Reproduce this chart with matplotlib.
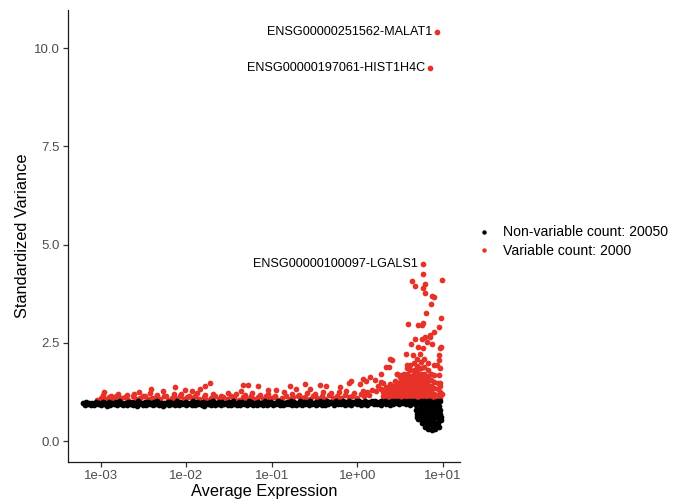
import numpy as np
import matplotlib
matplotlib.use("Agg")
import matplotlib.pyplot as plt
from matplotlib.lines import Line2D

plt.rcParams['font.family'] = ['Liberation Sans', 'DejaVu Sans']

# average expression is kept as log10 values, standardized variance as is
# non-variable genes: main band (upper and lower rows) and the dip at high expression
band_a_logmean = [-3.21, -3.17, -3.14, -3.10, -3.06, -3.02, -2.98, -2.95, -2.91, -2.87,
                  -2.83, -2.79, -2.76, -2.72, -2.68, -2.64, -2.60, -2.57, -2.53, -2.49,
                  -2.45, -2.41, -2.38, -2.34, -2.30, -2.26, -2.22, -2.19, -2.15, -2.11,
                  -2.07, -2.03, -2.00, -1.96, -1.92, -1.88, -1.84, -1.81, -1.77, -1.73,
                  -1.69, -1.65, -1.62, -1.58, -1.54, -1.50, -1.46, -1.43, -1.39, -1.35,
                  -1.31, -1.27, -1.24, -1.20, -1.16, -1.12, -1.08, -1.05, -1.01, -0.97,
                  -0.93, -0.89, -0.86, -0.82, -0.78, -0.74, -0.70, -0.67, -0.63, -0.59,
                  -0.55, -0.51, -0.48, -0.44, -0.40, -0.36, -0.32, -0.29, -0.25, -0.21,
                  -0.17, -0.13, -0.10, -0.06, -0.02, 0.02, 0.06, 0.09, 0.13, 0.17,
                  0.21, 0.25, 0.28, 0.32, 0.36, 0.40, 0.44, 0.47, 0.51, 0.55,
                  0.59, 0.63, 0.66, 0.70, 0.74, 0.78, 0.82, 0.85, 0.89, 0.93, 0.97]
band_a_var = [0.97, 0.99, 0.96, 0.98, 1.00, 0.97, 0.99, 0.98, 1.00, 0.97,
              0.99, 1.01, 0.98, 0.97, 1.00, 0.99, 0.98, 1.01, 0.97, 0.99,
              1.00, 0.98, 0.99, 1.01, 0.98, 0.97, 1.00, 0.99, 0.98, 1.01,
              0.99, 0.97, 1.00, 0.98, 1.01, 0.99, 0.98, 1.00, 0.97, 0.99,
              1.01, 0.98, 1.00, 0.99, 0.97, 1.00, 1.01, 0.98, 0.99, 1.00,
              0.98, 1.01, 0.99, 0.97, 1.00, 0.98, 1.01, 0.99, 1.00, 0.98,
              1.01, 0.99, 0.98, 1.00, 1.02, 0.99, 0.98, 1.01, 1.00, 0.99,
              1.02, 0.98, 1.00, 1.01, 0.99, 1.02, 1.00, 0.98, 1.01, 1.00,
              1.02, 0.99, 1.01, 1.00, 1.03, 1.01, 0.99, 1.02, 1.00, 1.01,
              1.03, 1.00, 1.02, 1.01, 0.99, 1.02, 1.01, 1.03, 1.00, 1.02,
              1.01, 1.03, 1.02, 1.00, 1.02, 1.03, 1.01, 1.02, 1.00, 1.03, 1.02]

band_b_logmean = [-3.19, -3.15, -3.12, -3.08, -3.04, -3.00, -2.96, -2.93, -2.89, -2.85,
                  -2.81, -2.77, -2.74, -2.70, -2.66, -2.62, -2.58, -2.55, -2.51, -2.47,
                  -2.43, -2.39, -2.36, -2.32, -2.28, -2.24, -2.20, -2.17, -2.13, -2.09,
                  -2.05, -2.01, -1.98, -1.94, -1.90, -1.86, -1.82, -1.79, -1.75, -1.71,
                  -1.67, -1.63, -1.60, -1.56, -1.52, -1.48, -1.44, -1.41, -1.37, -1.33,
                  -1.29, -1.25, -1.22, -1.18, -1.14, -1.10, -1.06, -1.03, -0.99, -0.95,
                  -0.91, -0.87, -0.84, -0.80, -0.76, -0.72, -0.68, -0.65, -0.61, -0.57,
                  -0.53, -0.49, -0.46, -0.42, -0.38, -0.34, -0.30, -0.27, -0.23, -0.19,
                  -0.15, -0.11, -0.08, -0.04, 0.00, 0.04, 0.08, 0.11, 0.15, 0.19,
                  0.23, 0.27, 0.30, 0.34, 0.38, 0.42, 0.46, 0.49, 0.53, 0.57,
                  0.61, 0.65]
band_b_var = [0.92, 0.94, 0.91, 0.93, 0.95, 0.92, 0.94, 0.90, 0.93, 0.95,
              0.92, 0.94, 0.91, 0.93, 0.95, 0.92, 0.90, 0.94, 0.93, 0.91,
              0.95, 0.92, 0.94, 0.93, 0.90, 0.94, 0.92, 0.95, 0.91, 0.93,
              0.94, 0.92, 0.95, 0.91, 0.93, 0.94, 0.92, 0.90, 0.95, 0.93,
              0.92, 0.94, 0.91, 0.95, 0.93, 0.92, 0.94, 0.91, 0.93, 0.95,
              0.92, 0.94, 0.93, 0.91, 0.95, 0.93, 0.92, 0.94, 0.91, 0.95,
              0.93, 0.92, 0.94, 0.95, 0.91, 0.93, 0.94, 0.92, 0.95, 0.93,
              0.94, 0.92, 0.95, 0.93, 0.91, 0.94, 0.96, 0.93, 0.95, 0.94,
              0.92, 0.95, 0.93, 0.96, 0.94, 0.92, 0.95, 0.93, 0.96, 0.94,
              0.95, 0.93, 0.96, 0.94, 0.92, 0.95, 0.97, 0.94, 0.96, 0.95,
              0.93, 0.96]

dip_logmean = [0.69, 0.69, 0.70, 0.70, 0.71,
               0.73, 0.73, 0.74, 0.74, 0.75, 0.75,
               0.77, 0.77, 0.78, 0.78, 0.78, 0.79, 0.79,
               0.81, 0.81, 0.82, 0.82, 0.82, 0.83, 0.83,
               0.85, 0.85, 0.86, 0.86, 0.86, 0.87, 0.87,
               0.89, 0.89, 0.90, 0.90, 0.90, 0.91, 0.91,
               0.93, 0.93, 0.94, 0.94, 0.94, 0.95,
               0.96, 0.97, 0.97, 0.98, 0.98]
dip_var = [0.92, 0.80, 0.70, 0.62, 0.56,
           0.93, 0.82, 0.72, 0.62, 0.52, 0.45,
           0.94, 0.84, 0.74, 0.64, 0.54, 0.44, 0.36,
           0.93, 0.83, 0.73, 0.63, 0.53, 0.42, 0.32,
           0.94, 0.84, 0.74, 0.64, 0.52, 0.40, 0.29,
           0.93, 0.83, 0.72, 0.61, 0.50, 0.39, 0.30,
           0.92, 0.81, 0.70, 0.58, 0.46, 0.36,
           0.90, 0.80, 0.70, 0.62, 0.54]

# variable genes: thin fringe just above the band
fringe_logmean = [-3.05, -3.00, -2.95, -2.91, -2.86, -2.82, -2.77, -2.72, -2.68, -2.63,
                  -2.59, -2.54, -2.49, -2.45, -2.40, -2.36, -2.31, -2.26, -2.22, -2.17,
                  -2.13, -2.08, -2.03, -1.99, -1.94, -1.90, -1.85, -1.80, -1.76, -1.71,
                  -1.67, -1.62, -1.57, -1.53, -1.48, -1.44, -1.39, -1.34, -1.30, -1.25,
                  -1.21, -1.16, -1.11, -1.07, -1.02, -0.98, -0.93, -0.88, -0.84, -0.79,
                  -0.75, -0.70, -0.65, -0.61, -0.56, -0.52, -0.47, -0.42, -0.38, -0.33,
                  -0.29, -0.24, -0.19, -0.15, -0.10, -0.06, -0.01, 0.04, 0.08, 0.13,
                  -2.98, -2.88, -2.80, -2.70, -2.61, -2.51, -2.43, -2.34, -2.24, -2.15,
                  -2.06, -1.97, -1.88, -1.78, -1.69, -1.60, -1.51, -1.42, -1.32, -1.23,
                  -1.14, -1.05, -0.96, -0.86, -0.77, -0.68, -0.59, -0.50, -0.40, -0.31,
                  -0.22, -0.13, -0.04, 0.06, 0.11, 0.17, 0.22]
fringe_var = [1.06, 1.10, 1.08, 1.13, 1.07, 1.15, 1.09, 1.12, 1.06, 1.14,
              1.08, 1.11, 1.16, 1.07, 1.10, 1.13, 1.08, 1.15, 1.06, 1.11,
              1.09, 1.14, 1.07, 1.12, 1.10, 1.16, 1.08, 1.13, 1.06, 1.11,
              1.15, 1.08, 1.12, 1.07, 1.14, 1.10, 1.06, 1.13, 1.09, 1.16,
              1.08, 1.12, 1.07, 1.15, 1.10, 1.13, 1.06, 1.11, 1.14, 1.08,
              1.12, 1.16, 1.09, 1.13, 1.07, 1.15, 1.10, 1.14, 1.08, 1.17,
              1.11, 1.15, 1.09, 1.18, 1.12, 1.16, 1.10, 1.19, 1.14, 1.17,
              1.18, 1.14, 1.21, 1.17, 1.20, 1.16, 1.22, 1.18, 1.15, 1.21,
              1.19, 1.16, 1.23, 1.18, 1.20, 1.15, 1.22, 1.19, 1.17, 1.23,
              1.18, 1.21, 1.16, 1.24, 1.20, 1.18, 1.23, 1.21, 1.25, 1.22,
              1.24, 1.27, 1.23, 1.28, 1.25, 1.30, 1.27]

# variable genes: scattered points above the fringe
outlier_logmean = [-2.97, -2.56, -2.41, -2.27, -2.13, -2.02, -1.93, -1.84, -1.78, -1.72,
                   -1.34, -1.28, -1.16, -1.36, -1.05, -0.95, -0.79, -0.72, -0.61, -0.55,
                   -0.44, -0.37, -0.20, -0.10, -0.08, 0.03, 0.06, 0.10, 0.15, 0.20,
                   0.27, 0.30, 0.37, 0.41, 0.46, 0.58, 0.38, 0.34, 0.28, 0.24, 0.44, 0.51]
outlier_var = [1.25, 1.25, 1.34, 1.28, 1.38, 1.30, 1.27, 1.32, 1.40, 1.47,
               1.42, 1.42, 1.40, 1.28, 1.30, 1.30, 1.40, 1.34, 1.45, 1.33,
               1.42, 1.40, 1.38, 1.48, 1.53, 1.45, 1.58, 1.52, 1.64, 1.55,
               1.72, 1.47, 1.89, 2.06, 1.72, 1.93, 1.45, 1.38, 1.32, 1.40, 1.52, 1.68]

# variable genes: dense cloud at high expression, one column per log10 mean
cloud_cols = [(0.30, [1.05, 1.15, 1.25]),
              (0.34, [1.07, 1.17, 1.28]),
              (0.38, [1.05, 1.15, 1.25, 1.35]),
              (0.42, [1.08, 1.18, 1.28, 1.40]),
              (0.46, [1.05, 1.15, 1.25, 1.35, 1.47]),
              (0.50, [1.08, 1.18, 1.28, 1.38, 1.50, 1.62]),
              (0.54, [1.05, 1.15, 1.25, 1.35, 1.45, 1.57, 1.72]),
              (0.58, [1.08, 1.18, 1.28, 1.38, 1.48, 1.60, 1.72, 1.85]),
              (0.62, [1.05, 1.15, 1.25, 1.35, 1.45, 1.55, 1.67, 1.80, 1.95]),
              (0.66, [1.08, 1.18, 1.28, 1.38, 1.48, 1.58, 1.70, 1.82, 2.00]),
              (0.70, [1.05, 1.15, 1.25, 1.35, 1.45, 1.55, 1.65, 1.78, 1.92, 2.08]),
              (0.74, [1.08, 1.18, 1.28, 1.38, 1.48, 1.58, 1.70, 1.85, 2.02]),
              (0.78, [1.05, 1.15, 1.25, 1.35, 1.45, 1.57, 1.70, 1.88, 2.10]),
              (0.82, [1.08, 1.18, 1.28, 1.40, 1.52, 1.65, 1.80, 1.98]),
              (0.86, [1.05, 1.15, 1.27, 1.40, 1.55, 1.72]),
              (0.90, [1.08, 1.20, 1.35, 1.50, 1.68]),
              (0.94, [1.05, 1.18, 1.32, 1.48]),
              (0.97, [1.10, 1.25, 1.40])]

# variable genes: sparse points high above the cloud
high_logmean = [0.77, 0.64, 0.67, 0.79, 0.77, 0.99, 0.79, 0.87, 0.89, 0.86,
                0.80, 0.98, 0.59, 0.71, 0.77, 0.96, 0.89, 0.67, 0.75, 0.79,
                0.85, 0.81, 0.63, 0.71, 0.77, 0.87, 0.97, 0.38, 0.34, 0.98,
                0.57, 0.65, 0.73, 0.95, 0.89, 0.97, 0.46, 0.28, 0.95, 0.97,
                0.99, 0.75, 0.85, 0.96, 0.93]
high_var = [4.25, 4.08, 3.95, 3.99, 3.90, 4.10, 3.78, 3.70, 3.66, 3.49,
            3.27, 3.14, 2.98, 2.95, 3.01, 2.91, 2.78, 2.59, 2.61, 2.64,
            2.65, 2.53, 2.46, 2.40, 2.37, 2.48, 2.38, 2.08, 1.89, 2.40,
            2.23, 2.19, 2.23, 2.19, 1.93, 1.85, 1.72, 1.51, 1.68, 1.47,
            1.21, 2.95, 2.70, 2.06, 1.93]

# labelled top genes
top_genes = ["ENSG00000251562-MALAT1", "ENSG00000197061-HIST1H4C", "ENSG00000100097-LGALS1"]
top_logmean = [0.93, 0.85, 0.77]
top_var = [10.41, 9.49, 4.50]

legend_labels = ["Non-variable count: 20050", "Variable count: 2000"]

RED = "#e63228"
PT = 17

nonvar_x = 10 ** np.array(band_a_logmean + band_b_logmean + dip_logmean)
nonvar_y = np.array(band_a_var + band_b_var + dip_var)

cloud_x = [c[0] for c in cloud_cols for _ in c[1]]
cloud_y = [v for c in cloud_cols for v in c[1]]
var_x = 10 ** np.array(fringe_logmean + outlier_logmean + cloud_x + high_logmean + top_logmean)
var_y = np.array(fringe_var + outlier_var + cloud_y + high_var + top_var)

fig = plt.figure(figsize=(6.83, 5.03), dpi=100)
ax = fig.add_axes([68 / 683, 41 / 503, 392 / 683, 452 / 503])

ax.scatter(var_x, var_y, s=PT, c=RED, linewidths=0, zorder=2)
ax.scatter(nonvar_x, nonvar_y, s=PT, c="black", linewidths=0, zorder=3)

ax.set_xscale("log")
ax.set_xlim(10 ** -3.386, 10 ** 1.2)
ax.set_ylim(-0.53, 10.97)
ax.set_xticks([1e-3, 1e-2, 1e-1, 1e0, 1e1])
ax.set_xticklabels(["1e-03", "1e-02", "1e-01", "1e+00", "1e+01"])
ax.minorticks_off()
ax.set_yticks([0, 2.5, 5, 7.5, 10])
ax.set_yticklabels(["0.0", "2.5", "5.0", "7.5", "10.0"])

for side in ("top", "right"):
    ax.spines[side].set_visible(False)
for side in ("left", "bottom"):
    ax.spines[side].set_linewidth(0.9)
    ax.spines[side].set_color("#1a1a1a")
ax.tick_params(axis="both", length=3.5, width=0.9, color="#333333",
               labelcolor="#4d4d4d", labelsize=9.5, pad=2.5)

ax.set_xlabel("Average Expression", fontsize=11.8, color="black", labelpad=1)
ax.set_ylabel("Standardized Variance", fontsize=11.8, color="black", labelpad=3)

for name, lx, ly in zip(top_genes, top_logmean, top_var):
    ax.annotate(name, xy=(10 ** lx, ly), xytext=(-5, 0), textcoords="offset pixels",
                ha="right", va="center", fontsize=9.1, color="black")

handles = [Line2D([], [], ls="none", marker="o", markersize=3.2, color="black", markeredgewidth=0),
           Line2D([], [], ls="none", marker="o", markersize=3.2, color=RED, markeredgewidth=0)]
ax.legend(handles, legend_labels, loc="center left", bbox_to_anchor=(1.03, 0.487),
          frameon=False, fontsize=10.1, handlelength=1.0, handletextpad=0.8,
          labelspacing=0.35, borderaxespad=0)

fig.savefig("out.png", dpi=100)
